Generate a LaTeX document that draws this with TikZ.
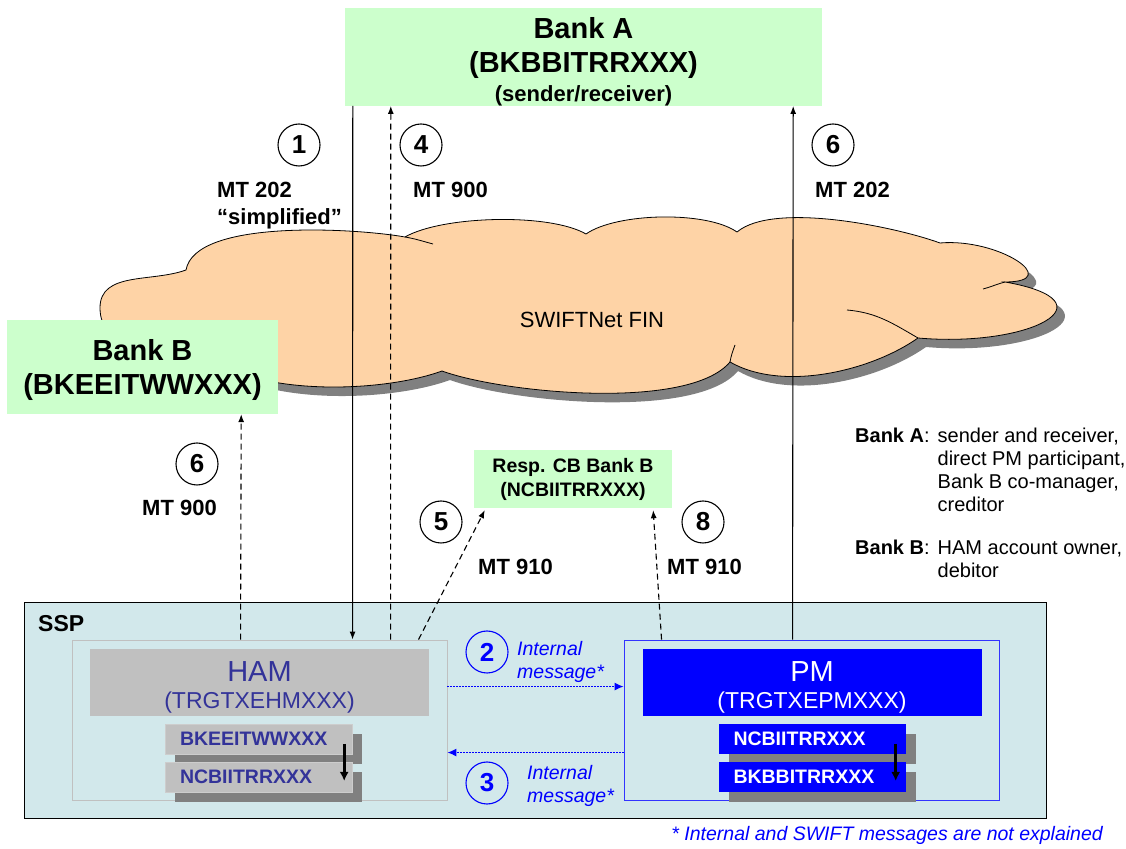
\documentclass[tikz,border=0pt]{standalone}
\usepackage{fontspec}
\setmainfont{Liberation Sans}
\usepackage{tikz}
\usetikzlibrary{arrows.meta, positioning}

\definecolor{bankgreen}{RGB}{204,255,204}
\definecolor{cloudpeach}{RGB}{254,211,166}
\definecolor{shadowgray}{RGB}{128,128,128}
\definecolor{sspfill}{RGB}{210,232,235}
\definecolor{hamgray}{RGB}{192,192,192}
\definecolor{hamtext}{RGB}{51,51,153}
\definecolor{pmblue}{RGB}{0,0,255}

\begin{document}
\begin{tikzpicture}[x=1pt, y=1pt,
        bank/.style={
            rectangle,
            fill=bankgreen,
            inner sep=0pt,
            align=center,
            font=\bfseries\fontsize{29}{34}\selectfont
        },
        stepnum/.style={
            circle,
            draw=black,
            line width=1.1pt,
            minimum size=42pt,
            inner sep=0pt,
            font=\bfseries\fontsize{26}{26}\selectfont
        },
        bluenum/.style={stepnum, draw=pmblue, text=pmblue},
        mt/.style={
            anchor=north west,
            inner sep=0pt,
            align=left,
            font=\bfseries\fontsize{22}{27}\selectfont
        },
        intmsg/.style={
            anchor=north west,
            inner sep=0pt,
            align=left,
            text=pmblue,
            font=\itshape\fontsize{19.5}{23.5}\selectfont
        },
        module/.style={
            rectangle,
            fill=sspfill,
            line width=0.9pt,
            minimum width=375pt,
            minimum height=160pt,
            inner sep=0pt
        },
        modbar/.style={
            rectangle,
            minimum width=339pt,
            minimum height=67pt,
            inner sep=0pt,
            align=center,
            font=\fontsize{23}{27}\selectfont
        },
        acc/.style={
            rectangle,
            minimum width=187pt,
            minimum height=30pt,
            inner xsep=15pt,
            inner ysep=0pt,
            text width=157pt,
            align=left,
            font=\bfseries\fontsize{19.5}{19.5}\selectfont
        },
        accshadow/.style={
            rectangle,
            fill=shadowgray,
            minimum width=187pt,
            minimum height=30pt,
            inner sep=0pt
        },
        swift/.style={
            -{Latex[length=8pt,width=6pt]},
            line width=1.1pt
        },
        swiftdash/.style={swift, dash pattern=on 6pt off 4pt},
        internal/.style={
            -{Latex[length=9pt,width=8pt]},
            draw=pmblue,
            line width=1.2pt,
            dash pattern=on 1.3pt off 1.7pt
        },
        move/.style={
            -{Latex[length=9pt,width=9pt]},
            line width=2.6pt
        },
        cloudline/.style={insert path={
            (186,578) to[out=80,in=170,looseness=0.6] (405,611)
            to[out=30,in=150,looseness=0.6] (586,614)
            to[out=35,in=145,looseness=0.63] (737,616)
            to[out=40,in=160,looseness=0.6] (940,605)
            to[out=5,in=0,looseness=2] (1005,566)
            to[out=-10,in=-5,looseness=2.8] (918,510)
            to[out=215,in=-30,looseness=0.8] (730,486)
            to[out=230,in=-20,looseness=0.57] (442,477)
            to[out=200,in=-45,looseness=0.7] (200,498)
            to[out=180,in=-90] (100,540)
            to[out=90,in=200] (186,578) -- cycle}}
    ]
        \useasboundingbox (0,0) rectangle (1126,848);

        % SWIFTNet cloud
        \path[fill=shadowgray, shift={(8,-9)}, cloudline];
        \path[fill=cloudpeach, draw=black, line width=0.8pt, cloudline];
        \draw[line width=0.8pt] (405,611) to[out=-10,in=165] (433,604);
        \draw[line width=0.8pt] (1005,566) to[out=195,in=15] (983,559);
        \draw[line width=0.8pt] (918,510) to[out=150,in=-5] (847,538);
        \draw[line width=0.8pt] (730,486) to[out=80,in=-110] (735,503);
        \node (fin) at (592,528) {\fontsize{22}{22}\selectfont SWIFTNet FIN};

        % banks
        \node (bankA) [bank, minimum width=477pt, minimum height=94pt] at (583.5,791)
            {\rule{0pt}{30pt}Bank A\\(BKBBITRRXXX)\\[-5pt]{\fontsize{22}{26}\selectfont (sender/receiver)}};
        \node (bankB) [bank, minimum width=271pt, minimum height=94pt] at (142.5,481)
            {\rule{0pt}{28pt}Bank B\\(BKEEITWWXXX)};
        \node (respcb) [bank, minimum width=198pt, minimum height=58pt,
            font=\bfseries\fontsize{19.5}{24}\selectfont] at (573,369)
            {Resp. CB Bank B\\(NCBIITRRXXX)};

        % SSP with HAM and PM
        \node (ssp) [rectangle, fill=sspfill, draw=black, line width=1pt,
            minimum width=1022pt, minimum height=215pt] at (535,137.5) {};
        \node (ssplabel) [anchor=west, inner sep=0pt,
            font=\bfseries\fontsize{23}{23}\selectfont] at (38,224) {SSP};

        \node (hamout) [module, draw=hamgray] at (259.5,128) {};
        \node (hambar) [modbar, fill=hamgray, text=hamtext] at (259.5,165.5)
            {\rule{0pt}{29pt}{\fontsize{29}{29}\selectfont HAM}\\(TRGTXEHMXXX)};
        \node (pmout) [module, draw=pmblue!80] at (811.5,128) {};
        \node (pmbar) [modbar, fill=pmblue, text=white] at (812,165.5)
            {\rule{0pt}{29pt}{\fontsize{29}{29}\selectfont PM}\\(TRGTXEPMXXX)};

        \node[accshadow] at (268.5,98.5) {};
        \node (hamacc1) [acc, fill=hamgray, text=hamtext, draw=hamgray!80!white] at (258.5,109) {BKEEITWWXXX};
        \node[accshadow] at (268.5,60.5) {};
        \node (hamacc2) [acc, fill=hamgray, text=hamtext, draw=hamgray!80!white] at (258.5,71) {NCBIITRRXXX};
        \node[accshadow] at (822,98.5) {};
        \node (pmacc1) [acc, fill=pmblue, text=white] at (812,109) {NCBIITRRXXX};
        \node[accshadow] at (822,60.5) {};
        \node (pmacc2) [acc, fill=pmblue, text=white] at (812,71) {BKBBITRRXXX};

        \draw[move] ([shift={(-8pt,-5pt)}]hamacc1.east) -- ([shift={(-8pt,-4pt)}]hamacc2.east);
        \draw[move] ([shift={(-10pt,-5pt)}]pmacc1.east) -- ([shift={(-10pt,-4pt)}]pmacc2.east);

        % step numbers and message types
        \node (s1) [stepnum] at (299,703) {1};
        \node (mt1) [mt] at (217,666) {MT 202\\“simplified”};
        \node (s4) [stepnum] at (421,703) {4};
        \node (mt4) [mt] at (413,666) {MT 900};
        \node (s6a) [stepnum] at (833,703) {6};
        \node (mt6a) [mt] at (815,666) {MT 202};
        \node (s6b) [stepnum] at (197,384) {6};
        \node (mt6b) [mt] at (142,348) {MT 900};
        \node (s5) [stepnum] at (441,326) {5};
        \node (mt5) [mt] at (478,289) {MT 910};
        \node (s8) [stepnum] at (703,326) {8};
        \node (mt8) [mt] at (667,289) {MT 910};
        \node (s2) [bluenum] at (487,196) {2};
        \node (im2) [intmsg] at (517,207) {Internal\\message*};
        \node (s3) [bluenum] at (487,65) {3};
        \node (im3) [intmsg] at (527,83) {Internal\\message*};

        % messages
        \draw[swift] ([xshift=8pt]bankA.south west) -- ([xshift=281pt]hamout.north west);
        \draw[swiftdash] ([xshift=319pt]hamout.north west) -- ([xshift=46pt]bankA.south west);
        \draw[swift] ([xshift=169pt]pmout.north west) -- ([xshift=-29pt]bankA.south east);
        \draw[swiftdash] ([xshift=169pt]hamout.north west) -- ([xshift=-37pt]bankB.south east);
        \draw[swiftdash] ([xshift=347pt]hamout.north west) -- ([xshift=11pt,yshift=-2pt]respcb.south west);
        \draw[swiftdash] ([xshift=38pt]pmout.north west) -- ([xshift=-19pt,yshift=-2pt]respcb.south east);
        \draw[internal] ([yshift=-47pt]hamout.north east) -- ([yshift=-47pt]pmout.north west);
        \draw[internal] ([yshift=-113pt]pmout.north west) -- ([yshift=-113pt]hamout.north east);

        % legend
        \node (legend) [anchor=north west, inner sep=0pt, font=\fontsize{20}{23}\selectfont] at (855,422) {%
            \begin{tabular}{@{}r@{\hspace{8pt}}l@{}}
                \textbf{Bank A}: & sender and receiver,\\
                & direct PM participant,\\
                & Bank B co-manager,\\
                & creditor\\[20pt]
                \textbf{Bank B}: & HAM account owner,\\
                & debitor
            \end{tabular}};
        \node (note) [anchor=base east, inner sep=0pt, text=pmblue,
            font=\itshape\fontsize{19.5}{19.5}\selectfont] at (1103,8)
            {* Internal and SWIFT messages are not explained};
    \end{tikzpicture}
\end{document}
